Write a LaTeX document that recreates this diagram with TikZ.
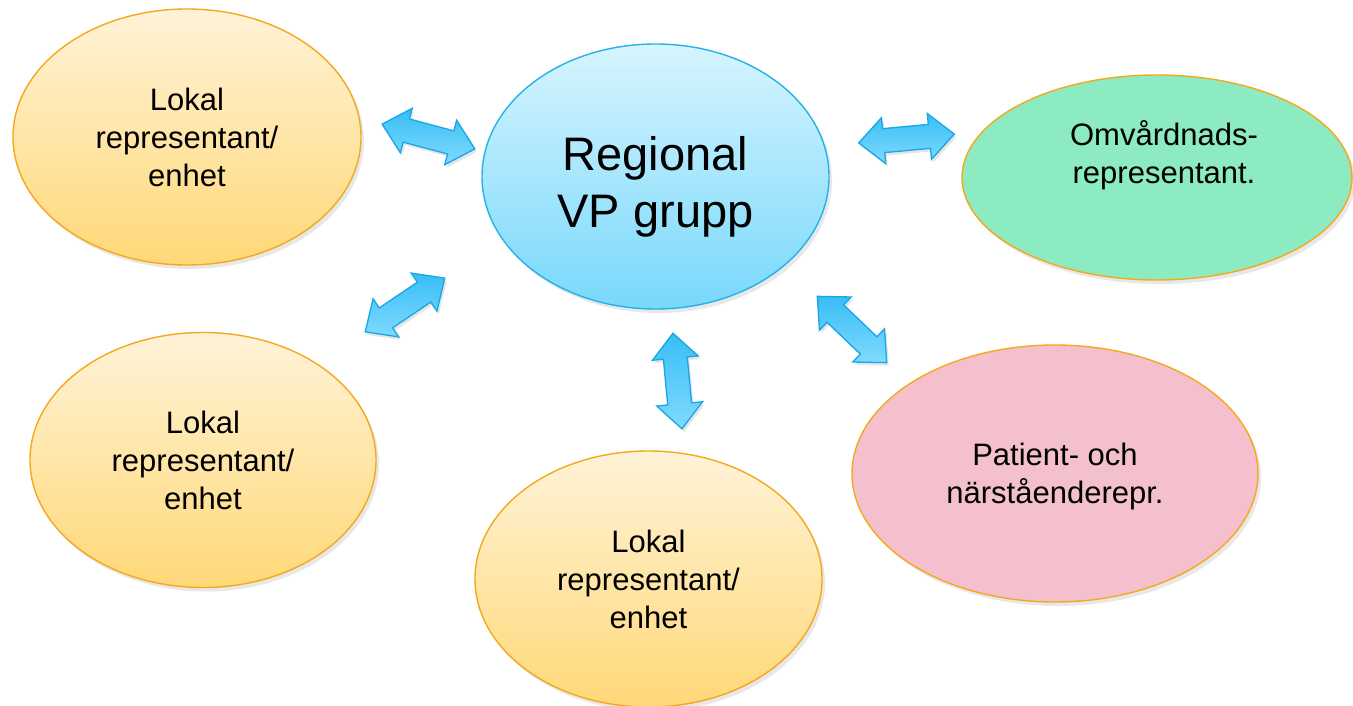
\documentclass[tikz,border=0pt]{standalone}
\usepackage{fontspec}
\setmainfont{Liberation Sans}
\usetikzlibrary{shapes.geometric,shadows}
\definecolor{orA}{HTML}{FFF3D8}
\definecolor{orB}{HTML}{FFD877}
\definecolor{orLine}{HTML}{F5A81C}
\definecolor{blA}{HTML}{D6F5FF}
\definecolor{blB}{HTML}{78D8FB}
\definecolor{blLine}{HTML}{25B2E8}
\definecolor{grFill}{HTML}{8CEBC0}
\definecolor{pkFill}{HTML}{F4C0CE}
\definecolor{arA}{HTML}{38BEF5}
\definecolor{arB}{HTML}{80DAFE}
\definecolor{arLine}{HTML}{17A6E6}
\tikzset{
  bubble/.style={ellipse, inner sep=0pt, align=center, line width=1.4pt,
    font=\fontsize{31}{38}\selectfont,
    drop shadow={shadow xshift=3pt, shadow yshift=-4pt, opacity=0.18}},
  lokal/.style={bubble, draw=orLine, top color=orA, bottom color=orB},
  regional/.style={bubble, draw=blLine, top color=blA, bottom color=blB},
  omv/.style={bubble, draw=orLine, fill=grFill},
  patient/.style={bubble, draw=orLine, fill=pkFill},
  bubbletext/.style={align=center, inner sep=0pt, font=\fontsize{31}{38}\selectfont},
  bigtext/.style={align=center, inner sep=0pt, font=\fontsize{47}{57}\selectfont},
  arrowshape/.style={draw=arLine, line width=1.3pt, line join=miter,
    top color=arA, bottom color=arB,
    drop shadow={shadow xshift=2pt, shadow yshift=-3pt, opacity=0.2}},
  pics/dblarrow/.style={code={
    \path[arrowshape] (-48,0) -- (-23,23) -- (-23,12) -- (23,12) -- (23,23)
      -- (48,0) -- (23,-23) -- (23,-12) -- (-23,-12) -- (-23,-23) -- cycle;
  }},
}
\begin{document}
\begin{tikzpicture}[x=1pt,y=-1pt]
\useasboundingbox (0,0) rectangle (1353,706);
\fill[white] (0,0) rectangle (1353,706);

% ellipses
\node[lokal, minimum width=348pt, minimum height=256pt] (lok1) at (187,137)
  {Lokal\\representant/\\enhet};
\node[regional, minimum width=347pt, minimum height=265pt] (reg) at (655.5,176.5) {};
\node[bigtext] (regtext) at ([yshift=-10pt]reg.center) {Regional\\VP grupp};
\node[omv, minimum width=390pt, minimum height=205pt] (omv) at (1157,177.5) {};
\node[bubbletext] (omvtext) at ([xshift=7pt,yshift=22pt]omv.center) {Omvårdnads-\\representant.};
\node[lokal, minimum width=346pt, minimum height=255pt] (lok2) at (203,460)
  {Lokal\\representant/\\enhet};
\node[lokal, minimum width=347pt, minimum height=256pt] (lok3) at (648.5,579)
  {Lokal\\representant/\\enhet};
\node[patient, minimum width=406pt, minimum height=257pt] (pat) at (1055,473.5) {};
\node[bubbletext] (pattext) at ([yshift=-3pt]pat.center) {Patient- och\\närståenderepr.};

% double arrows
\coordinate (a1) at (428.5,136.5);
\coordinate (a2) at (906.5,138.5);
\coordinate (a3) at (405,305);
\coordinate (a4) at (677.5,381);
\coordinate (a5) at (852,329.5);
\pic[rotate=-15] at (a1) {dblarrow};
\pic[rotate=5.3] at (a2) {dblarrow};
\pic[rotate=34] at (a3) {dblarrow};
\pic[rotate=-84.6] at (a4) {dblarrow};
\pic[rotate=-43.7] at (a5) {dblarrow};
\end{tikzpicture}
\end{document}
